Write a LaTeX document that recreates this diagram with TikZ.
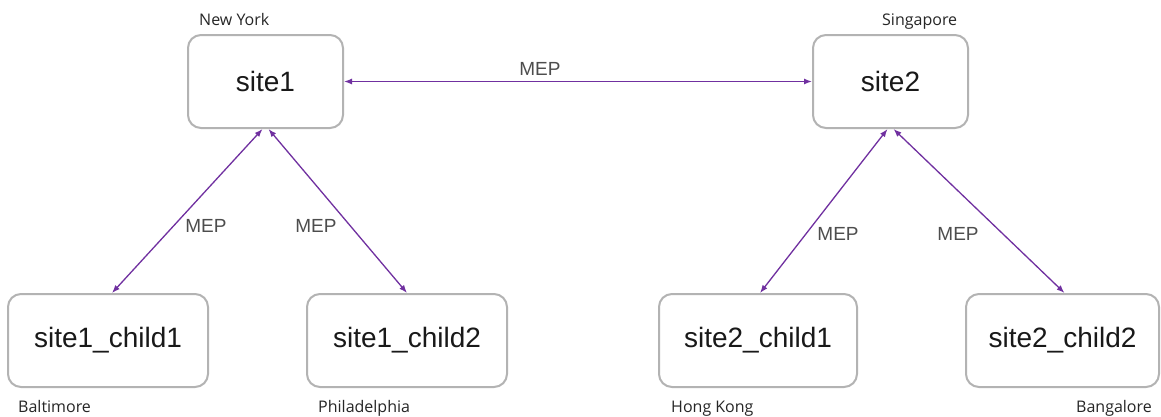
\documentclass[tikz,border=0pt]{standalone}
\usepackage{fontspec}
\setmainfont{Liberation Sans}
\newfontfamily\cityfont{Open Sans}
\usetikzlibrary{arrows.meta}
\definecolor{boxgray}{RGB}{179,179,179}
\definecolor{arrowpurple}{RGB}{112,48,160}
\definecolor{labelgray}{RGB}{77,77,77}
\begin{document}
\begin{tikzpicture}[x=1pt,y=-1pt,
  sitebox/.style={draw=boxgray,line width=2pt,rounded corners=13pt,fill=white,
    minimum width=#1,minimum height=93pt,inner sep=0pt,font=\fontsize{28}{32}\selectfont,text=black!90},
  city/.style={inner sep=0pt,font=\cityfont\fontsize{16}{18}\selectfont,text=black!85},
  meplabel/.style={inner sep=0pt,font=\fontsize{19}{22}\selectfont,text=labelgray},
  link/.style={draw=arrowpurple,line width=1.3pt,{Latex[length=8pt,width=6pt]}-{Latex[length=8pt,width=6pt]}}]
\useasboundingbox (0,0) rectangle (1161,416);
\fill[white] (0,0) rectangle (1161,416);
\node[sitebox=155pt] (s1) at (265.5,81.5) {site1};
\node[sitebox=155pt] (s2) at (890.5,81.5) {site2};
\node[sitebox=200pt] (c11) at (108,340.5) {site1\_child1};
\node[sitebox=200pt] (c12) at (407,340.5) {site1\_child2};
\node[sitebox=198pt] (c21) at (758,340.5) {site2\_child1};
\node[sitebox=193pt] (c22) at (1062.5,340.5) {site2\_child2};
\node[city,anchor=base west] (ny) at (199,25) {New York};
\node[city,anchor=base west] (sg) at (882,25) {Singapore};
\node[city,anchor=base west] (bal) at (18,412) {Baltimore};
\node[city,anchor=base west] (phl) at (318,412) {Philadelphia};
\node[city,anchor=base west] (hk) at (671,412) {Hong Kong};
\node[city,anchor=base east] (blr) at (1152,412) {Bangalore};
\coordinate (s1l) at ([xshift=-3pt]s1.south);
\coordinate (s1r) at ([xshift=3pt]s1.south);
\coordinate (s2l) at ([xshift=-3pt]s2.south);
\coordinate (s2r) at ([xshift=3pt]s2.south);
\coordinate (c11t) at ([xshift=4pt]c11.north);
\coordinate (c21t) at ([xshift=2pt]c21.north);
\coordinate (c22t) at ([xshift=2pt]c22.north);
\draw[link] (s1.east) -- (s2.west);
\draw[link] (s1l) -- (c11t);
\draw[link] (s1r) -- (c12.north);
\draw[link] (s2l) -- (c21t);
\draw[link] (s2r) -- (c22t);
\node[meplabel] (m0) at (540,69) {MEP};
\node[meplabel] (m1) at (206,226) {MEP};
\node[meplabel] (m2) at (316,226) {MEP};
\node[meplabel] (m3) at (838,234) {MEP};
\node[meplabel] (m4) at (958,234) {MEP};
\end{tikzpicture}
\end{document}
